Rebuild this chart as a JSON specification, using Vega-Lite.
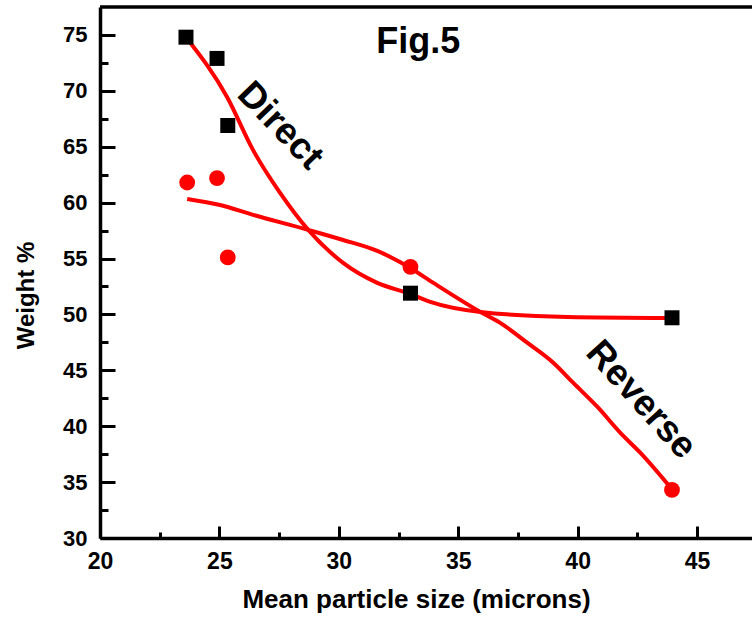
{
  "$schema": "https://vega.github.io/schema/vega-lite/v6.json",
  "autosize": {"type": "none"},
  "padding": {"left": 100, "top": 7, "right": 0, "bottom": 84},
  "width": 652,
  "height": 531,
  "background": "white",
  "config": {
    "view": {"stroke": null},
    "font": "Liberation Sans",
    "axis": {
      "domainColor": "black",
      "domainWidth": 3.5,
      "ticks": true,
      "tickColor": "black",
      "tickWidth": 3,
      "grid": false,
      "labelFont": "Liberation Sans",
      "labelFontWeight": "bold",
      "labelColor": "black",
      "titleFont": "Liberation Sans",
      "titleFontWeight": "bold",
      "titleColor": "black",
      "labelFlush": false,
      "labelOverlap": false
    }
  },
  "datasets": {
    "points": [
      {"series": "Direct", "size": 23.6, "weight": 74.8},
      {"series": "Direct", "size": 24.9, "weight": 72.9},
      {"series": "Direct", "size": 25.35, "weight": 66.9},
      {"series": "Direct", "size": 33.0, "weight": 51.9},
      {"series": "Direct", "size": 43.95, "weight": 49.7},
      {"series": "Reverse", "size": 23.65, "weight": 61.8},
      {"series": "Reverse", "size": 24.9, "weight": 62.2},
      {"series": "Reverse", "size": 25.35, "weight": 55.1},
      {"series": "Reverse", "size": 33.0, "weight": 54.25},
      {"series": "Reverse", "size": 43.95, "weight": 34.3}
    ],
    "fits": [
      {"series": "Direct", "size": 23.6, "weight": 74.8},
      {"series": "Direct", "size": 25.32, "weight": 69.45},
      {"series": "Direct", "size": 26.41, "weight": 64.7},
      {"series": "Direct", "size": 27.54, "weight": 60.87},
      {"series": "Direct", "size": 28.72, "weight": 57.56},
      {"series": "Direct", "size": 30.18, "weight": 54.61},
      {"series": "Direct", "size": 31.61, "weight": 52.82},
      {"series": "Direct", "size": 32.99, "weight": 51.83},
      {"series": "Direct", "size": 33.83, "weight": 51.12},
      {"series": "Direct", "size": 35.93, "weight": 50.22},
      {"series": "Direct", "size": 39.57, "weight": 49.78},
      {"series": "Direct", "size": 43.89, "weight": 49.69},
      {"series": "Reverse", "size": 23.65, "weight": 60.33},
      {"series": "Reverse", "size": 25.03, "weight": 59.79},
      {"series": "Reverse", "size": 26.41, "weight": 58.9},
      {"series": "Reverse", "size": 28.72, "weight": 57.56},
      {"series": "Reverse", "size": 30.18, "weight": 56.66},
      {"series": "Reverse", "size": 31.61, "weight": 55.68},
      {"series": "Reverse", "size": 32.99, "weight": 54.16},
      {"series": "Reverse", "size": 33.96, "weight": 52.82},
      {"series": "Reverse", "size": 35.93, "weight": 50.22},
      {"series": "Reverse", "size": 36.76, "weight": 49.24},
      {"series": "Reverse", "size": 37.9, "weight": 47.45},
      {"series": "Reverse", "size": 38.99, "weight": 45.66},
      {"series": "Reverse", "size": 39.82, "weight": 43.87},
      {"series": "Reverse", "size": 40.83, "weight": 41.72},
      {"series": "Reverse", "size": 41.79, "weight": 39.4},
      {"series": "Reverse", "size": 42.63, "weight": 37.61},
      {"series": "Reverse", "size": 43.97, "weight": 34.3}
    ],
    "labels": [
      {"text": "Fig.5", "size": 33.33, "weight": 74.4, "angle": 0, "fs": 36},
      {"text": "Direct", "size": 27.54, "weight": 66.86, "angle": 46, "fs": 37},
      {"text": "Reverse", "size": 42.65, "weight": 42.35, "angle": 48, "fs": 37}
    ]
  },
  "encoding": {
    "x": {
      "field": "size", "type": "quantitative",
      "scale": {"domain": [20, 47.3], "nice": false, "zero": false},
      "axis": {
        "title": "Mean particle size (microns)",
        "values": [20, 22.5, 25, 27.5, 30, 32.5, 35, 37.5, 40, 42.5, 45],
        "labelExpr": "datum.value % 5 === 0 ? format(datum.value, 'd') : ''",
        "labelFontSize": 23,
        "tickSize": {"condition": {"test": "datum.value % 5 === 0", "value": -12}, "value": -6},
        "labelPadding": 24,
        "titleFontSize": 26,
        "titleX": 316,
        "titleY": 48,
        "titleBaseline": "top"
      }
    },
    "y": {
      "field": "weight", "type": "quantitative",
      "scale": {"domain": [30, 77.5], "nice": false, "zero": false},
      "axis": {
        "title": "Weight %",
        "values": [30, 32.5, 35, 37.5, 40, 42.5, 45, 47.5, 50, 52.5, 55, 57.5, 60, 62.5, 65, 67.5, 70, 72.5, 75],
        "labelExpr": "datum.value % 5 === 0 ? format(datum.value, 'd') : ''",
        "labelFontSize": 22,
        "tickSize": {"condition": {"test": "datum.value % 5 === 0", "value": -15}, "value": -8},
        "labelPadding": 28,
        "titleFontSize": 24,
        "titleX": -74,
        "titleY": 288,
        "titleBaseline": "middle",
        "titleAngle": -90
      }
    }
  },
  "layer": [
    {
      "data": {"values": [{"weight": 77.5}]},
      "mark": {"type": "rule", "color": "black", "strokeWidth": 3.5},
      "encoding": {"y": {"field": "weight", "type": "quantitative"}, "x": null}
    },
    {
      "data": {"name": "fits"},
      "mark": {"type": "line", "color": "#ff0000", "strokeWidth": 4, "interpolate": "monotone"},
      "encoding": {"detail": {"field": "series"}}
    },
    {
      "data": {"name": "points"},
      "mark": {"type": "point", "filled": true, "opacity": 1},
      "encoding": {
        "shape": {"field": "series", "type": "nominal", "scale": {"domain": ["Direct", "Reverse"], "range": ["square", "circle"]}, "legend": null},
        "color": {"field": "series", "type": "nominal", "scale": {"domain": ["Direct", "Reverse"], "range": ["#000000", "#ff0000"]}, "legend": null},
        "size": {"field": "series", "type": "nominal", "scale": {"domain": ["Direct", "Reverse"], "range": [225, 250]}, "legend": null}
      }
    },
    {
      "data": {"name": "labels"},
      "mark": {"type": "text", "fontWeight": "bold", "color": "black", "align": "center", "baseline": "middle"},
      "encoding": {
        "text": {"field": "text"},
        "angle": {"field": "angle", "type": "quantitative", "scale": null},
        "size": {"field": "fs", "type": "quantitative", "scale": null}
      }
    }
  ]
}
